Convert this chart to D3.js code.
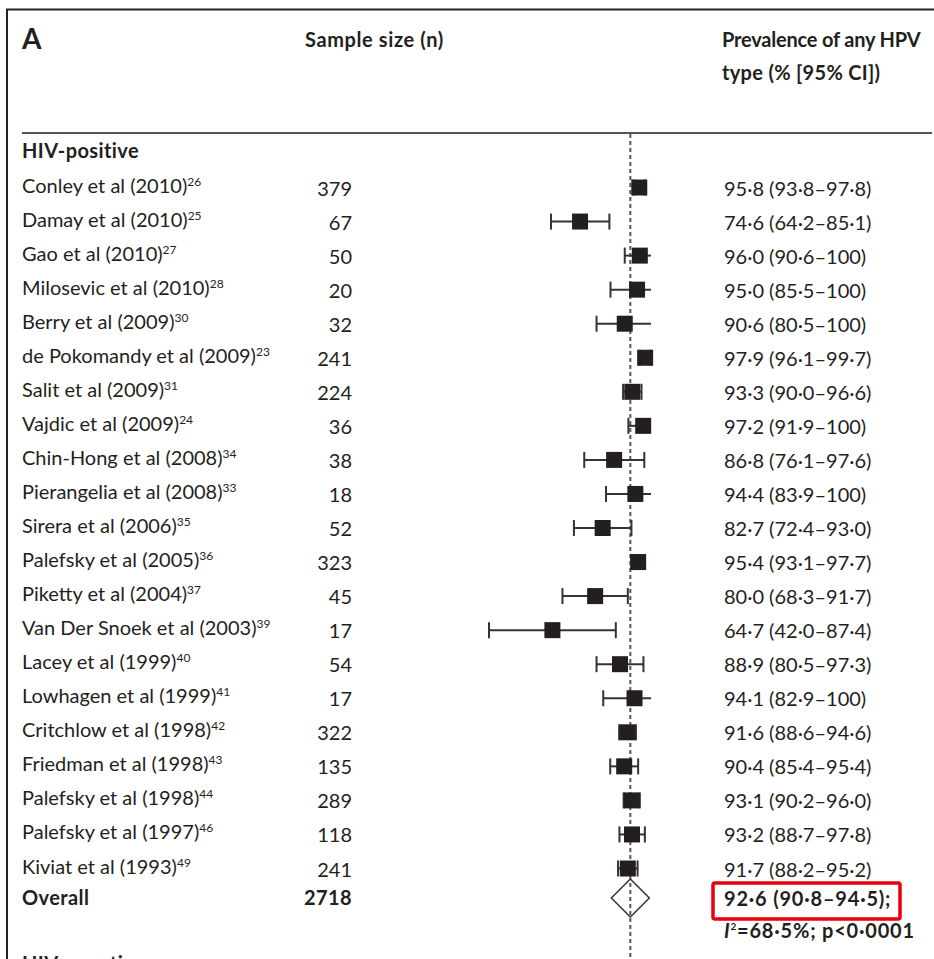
<!DOCTYPE html>
<html>
<head>
<meta charset="utf-8">
<script src="https://cdn.jsdelivr.net/npm/d3@7"></script>
<style>
  html, body { margin: 0; padding: 0; background: #fff; }
  svg { display: block; font-family: Lato, "Open Sans", sans-serif; }
</style>
</head>
<body>
<div id="chart"></div>
<script>
// Study rows, HIV-positive group
const studies = [
  'Conley et al (2010)', 'Damay et al (2010)', 'Gao et al (2010)', 'Milosevic et al (2010)',
  'Berry et al (2009)', 'de Pokomandy et al (2009)', 'Salit et al (2009)', 'Vajdic et al (2009)',
  'Chin-Hong et al (2008)', 'Pierangelia et al (2008)', 'Sirera et al (2006)', 'Palefsky et al (2005)',
  'Piketty et al (2004)', 'Van Der Snoek et al (2003)', 'Lacey et al (1999)', 'Lowhagen et al (1999)',
  'Critchlow et al (1998)', 'Friedman et al (1998)', 'Palefsky et al (1998)', 'Palefsky et al (1997)',
  'Kiviat et al (1993)'
];
const refs = [26, 25, 27, 28, 30, 23, 31, 24, 34, 33, 35, 36, 37, 39, 40, 41, 42, 43, 44, 46, 49];
const sampleSizes = [379, 67, 50, 20, 32, 241, 224, 36, 38, 18, 52, 323, 45, 17, 54, 17, 322, 135, 289, 118, 241];
const prevalence = [95.8, 74.6, 96.0, 95.0, 90.6, 97.9, 93.3, 97.2, 86.8, 94.4, 82.7, 95.4, 80.0, 64.7, 88.9, 94.1, 91.6, 90.4, 93.1, 93.2, 91.7];
const ciLow = [93.8, 64.2, 90.6, 85.5, 80.5, 96.1, 90.0, 91.9, 76.1, 83.9, 72.4, 93.1, 68.3, 42.0, 80.5, 82.9, 88.6, 85.4, 90.2, 88.7, 88.2];
const ciHigh = [97.8, 85.1, 100, 100, 100, 99.7, 96.6, 100, 97.6, 100, 93.0, 97.7, 91.7, 87.4, 97.3, 100, 94.6, 95.4, 96.0, 97.8, 95.2];

// Pooled estimate
const overallN = 2718;
const overall = { est: 92.6, low: 90.8, high: 94.5 };
const heterogeneity = { i2: 68.5, p: '0·0001' };

const W = 934, H = 959;
const ink = '#231f20';

const rows = studies.map((name, i) => ({
  name, ref: refs[i], n: sampleSizes[i],
  est: prevalence[i], low: ciLow[i], high: ciHigh[i]
}));

// lancet style numbers: middle dot decimal
const fmt = v => v === 100 ? '100' : v.toFixed(1).replace('.', '·');
const ciText = d => `${fmt(d.est)} (${fmt(d.low)}–${fmt(d.high)})`;

const x = d3.scaleLinear().domain([42, 100]).range([489, 651]);
const y = d3.scaleLinear().domain([0, rows.length - 1]).range([187.5, 868.5]);
const overallY = 898;

const svg = d3.select('#chart').append('svg')
  .attr('width', W)
  .attr('height', H);

/** bold text helper */
const boldText = (px, py, str, spacing) => svg.append('text')
  .attr('x', px).attr('y', py)
  .attr('font-size', 20).attr('font-weight', 700)
  .attr('letter-spacing', spacing || 0)
  .attr('fill', ink).text(str);

// frame: top rule and left edge
svg.append('line').attr('x1', 6).attr('x2', W).attr('y1', 9.5).attr('y2', 9.5)
  .attr('stroke', '#222').attr('stroke-width', 2);
svg.append('line').attr('x1', 7).attr('x2', 7).attr('y1', 9).attr('y2', H)
  .attr('stroke', '#222').attr('stroke-width', 2);
svg.append('line').attr('x1', 22).attr('x2', 932).attr('y1', 133).attr('y2', 133)
  .attr('stroke', '#555').attr('stroke-width', 2);

// headers
svg.append('text').attr('x', 22).attr('y', 49)
  .attr('font-size', 28).attr('font-weight', 700).attr('fill', ink).text('A');
boldText(305, 47, 'Sample size (n)', 0.6);
boldText(722, 47, 'Prevalence of any HPV', -0.2);
boldText(722, 80, 'type (% [95% CI])', 0.3);
boldText(22, 158, 'HIV-positive', 0.4);

// reference line at pooled estimate
svg.append('line')
  .attr('x1', x(overall.est)).attr('x2', x(overall.est))
  .attr('y1', 134).attr('y2', H)
  .attr('stroke', '#555').attr('stroke-width', 2)
  .attr('stroke-dasharray', '4,3');

const gRows = svg.append('g');
const row = gRows.selectAll('g.row')
  .data(rows)
  .enter()
  .append('g')
  .attr('class', 'row')
  .attr('transform', (d, i) => `translate(0,${y(i)})`);

// study label with superscript reference
const label = row.append('text')
  .attr('x', 22).attr('y', 5)
  .attr('font-size', 20).attr('fill', ink);
label.append('tspan').text(d => d.name);
label.append('tspan')
  .attr('font-size', 12).attr('dy', -7)
  .text(d => d.ref);

row.append('text')
  .attr('x', 352).attr('y', 8)
  .attr('text-anchor', 'end')
  .attr('font-size', 20).attr('fill', ink)
  .text(d => d.n);

row.append('text')
  .attr('x', 724).attr('y', 8)
  .attr('font-size', 20).attr('fill', ink)
  .text(ciText);

// whiskers
row.append('line')
  .attr('x1', d => x(d.low)).attr('x2', d => x(d.high))
  .attr('y1', 0).attr('y2', 0)
  .attr('stroke', '#333').attr('stroke-width', 2);
row.append('line')
  .attr('x1', d => x(d.low)).attr('x2', d => x(d.low))
  .attr('y1', -8).attr('y2', 8)
  .attr('stroke', '#333').attr('stroke-width', 2);
// no cap when the interval is truncated at 100
row.filter(d => d.high < 100).append('line')
  .attr('x1', d => x(d.high)).attr('x2', d => x(d.high))
  .attr('y1', -8).attr('y2', 8)
  .attr('stroke', '#333').attr('stroke-width', 2);

row.append('rect')
  .attr('x', d => x(d.est) - 8).attr('y', -8)
  .attr('width', 16).attr('height', 16)
  .attr('fill', ink);

// overall row
boldText(22, overallY + 7, 'Overall', 0.4);
boldText(352, overallY + 7, overallN, 0.4).attr('text-anchor', 'end');

const cx = x(overall.est), r = 19;
svg.append('path')
  .attr('d', `M${cx - r},${overallY}L${cx},${overallY - r}L${cx + r},${overallY}L${cx},${overallY + r}Z`)
  .attr('fill', 'none').attr('stroke', '#333').attr('stroke-width', 1.5);

boldText(724, overallY + 8, ciText(overall) + ';', 0.8);

const het = boldText(724, 938, null, 0.8);
het.append('tspan').attr('font-style', 'italic').text('I');
het.append('tspan').attr('font-size', 10).attr('dy', -8).text('2');
het.append('tspan').attr('dy', 8).text(`=${fmt(heterogeneity.i2)}%; p<${heterogeneity.p}`);

// highlight box round the pooled estimate
svg.append('rect')
  .attr('x', 713).attr('y', 883)
  .attr('width', 187).attr('height', 36)
  .attr('rx', 2)
  .attr('fill', 'none').attr('stroke', '#e8000b').attr('stroke-width', 3.5);

// next group, cut off by the bottom edge as in the source
boldText(22, 971, 'HIV-negative', 0.4);
</script>
</body>
</html>
